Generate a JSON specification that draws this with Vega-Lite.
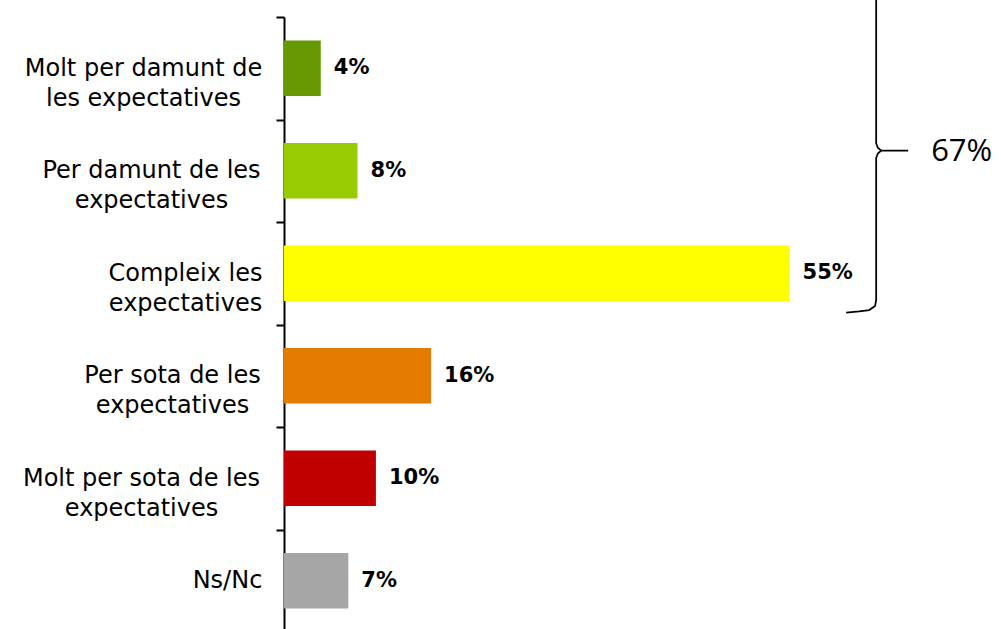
{
  "$schema": "https://vega.github.io/schema/vega-lite/v6.json",
  "autosize": {"type": "none"},
  "padding": {"left": 284, "top": 17, "right": 0, "bottom": 0},
  "width": 717,
  "height": 615,
  "background": "white",
  "config": {"view": {"stroke": null}},
  "datasets": {
    "bars": [
      {"category": "Molt per damunt de|les expectatives", "value": 0.04},
      {"category": "Per damunt de les|expectatives", "value": 0.08},
      {"category": "Compleix les|expectatives", "value": 0.55},
      {"category": "Per sota de les|expectatives", "value": 0.16},
      {"category": "Molt per sota de les|expectatives", "value": 0.10},
      {"category": "Ns/Nc", "value": 0.07}
    ],
    "brace": [
      {"part": "upper", "i": 1, "x": 0.6442, "u": -0.4},
      {"part": "upper", "i": 2, "x": 0.6442, "u": 1.232},
      {"part": "upper", "i": 3, "x": 0.6460, "u": 1.275},
      {"part": "upper", "i": 4, "x": 0.6497, "u": 1.304},
      {"part": "upper", "i": 5, "x": 0.6790, "u": 1.304},
      {"part": "lower", "i": 1, "x": 0.6497, "u": 1.304},
      {"part": "lower", "i": 2, "x": 0.6460, "u": 1.333},
      {"part": "lower", "i": 3, "x": 0.6442, "u": 1.376},
      {"part": "lower", "i": 4, "x": 0.6442, "u": 2.761},
      {"part": "lower", "i": 5, "x": 0.6430, "u": 2.820},
      {"part": "lower", "i": 6, "x": 0.6366, "u": 2.859},
      {"part": "lower", "i": 7, "x": 0.6257, "u": 2.873},
      {"part": "lower", "i": 8, "x": 0.6116, "u": 2.883}
    ],
    "note": [
      {"x": 0.704, "u": 1.32, "text": "67%"}
    ]
  },
  "layer": [
    {
      "data": {"name": "bars"},
      "layer": [
        {
          "mark": {"type": "bar"},
          "encoding": {
            "y": {
              "field": "category",
              "type": "nominal",
              "sort": null,
              "scale": {"paddingInner": 0.46, "paddingOuter": 0.23},
              "axis": {
                "title": null,
                "domainColor": "black",
                "domainWidth": 2,
                "tickColor": "black",
                "tickWidth": 2,
                "tickSize": 8,
                "tickOffset": -51.25,
                "labelOffset": 51.25,
                "labelExpr": "split(datum.label, '|')",
                "labelFont": "DejaVu Sans",
                "labelFontSize": 24,
                "labelColor": "black",
                "labelLineHeight": 30,
                "labelAlign": "center",
                "labelPadding": {"expr": "indexof(datum.value, 'Molt per damunt') == 0 ? 133 : indexof(datum.value, 'Per damunt') == 0 ? 125 : indexof(datum.value, 'Compleix') == 0 ? 91 : indexof(datum.value, 'Per sota') == 0 ? 104 : indexof(datum.value, 'Molt per sota') == 0 ? 135 : 49"},
                "labelLimit": 0
              }
            },
            "x": {
              "field": "value",
              "type": "quantitative",
              "scale": {"domain": [0, 0.78]},
              "axis": null
            },
            "color": {
              "field": "category",
              "type": "nominal",
              "sort": null,
              "scale": {"range": ["#669900", "#99CC00", "#FFFF00", "#E27B00", "#C00000", "#A6A6A6"]},
              "legend": null
            }
          }
        },
        {
          "mark": {"type": "text", "align": "left", "baseline": "middle", "dx": 13, "font": "DejaVu Sans", "fontSize": 21, "fontWeight": "bold", "color": "black"},
          "encoding": {
            "y": {"field": "category", "type": "nominal", "sort": null},
            "x": {"field": "value", "type": "quantitative", "scale": {"domain": [0, 0.78]}},
            "text": {"field": "value", "type": "quantitative", "format": ".0%"}
          }
        }
      ]
    },
    {
      "layer": [
        {
          "data": {"name": "brace"},
          "mark": {"type": "line", "color": "black", "strokeWidth": 1.75},
          "encoding": {
            "x": {"field": "x", "type": "quantitative", "scale": {"domain": [0, 0.78]}},
            "y": {"field": "u", "type": "quantitative", "scale": {"domain": [0, 6], "reverse": true}, "axis": null},
            "detail": {"field": "part"},
            "order": {"field": "i", "type": "quantitative"}
          }
        },
        {
          "data": {"name": "note"},
          "mark": {"type": "text", "align": "left", "baseline": "middle", "font": "Open Sans", "fontSize": 31, "color": "black"},
          "encoding": {
            "x": {"field": "x", "type": "quantitative", "scale": {"domain": [0, 0.78]}},
            "y": {"field": "u", "type": "quantitative", "scale": {"domain": [0, 6], "reverse": true}, "axis": null},
            "text": {"field": "text"}
          }
        }
      ]
    }
  ],
  "resolve": {"scale": {"y": "independent"}, "axis": {"y": "independent"}}
}
